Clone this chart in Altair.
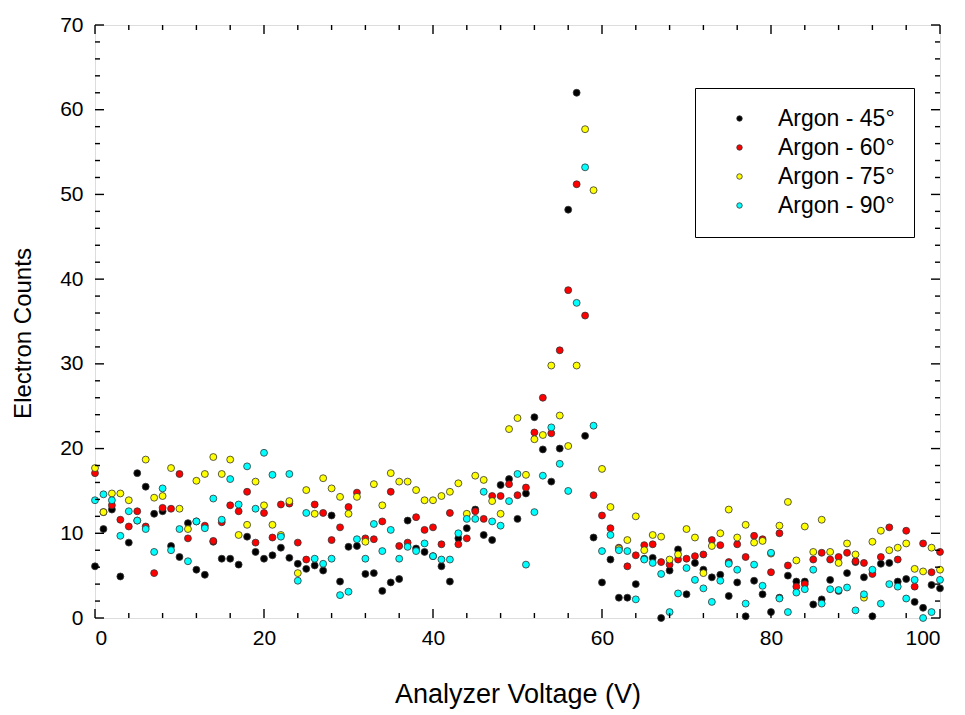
import altair as alt
import pandas as pd

voltage = list(range(0, 101))

argon_45 = [6.1, 10.5, 12.8, 4.9, 8.9, 17.1, 15.5, 12.3, 12.6, 8.5,
            7.2, 11.2, 5.7, 5.1, 9.0, 7.0, 7.0, 6.3, 9.6, 7.8,
            7.0, 7.4, 8.3, 7.1, 6.4, 5.8, 6.2, 5.6, 12.1, 4.3,
            8.4, 8.5, 5.2, 5.3, 3.2, 4.2, 4.6, 11.5, 8.2, 7.8,
            7.3, 6.1, 4.3, 9.4, 10.6, 12.8, 9.8, 9.2, 15.7, 16.4,
            11.7, 14.7, 23.7, 19.9, 16.1, 20.0, 48.2, 62.0, 21.5, 9.5,
            4.2, 6.9, 2.4, 2.4, 4.0, 7.0, 7.1, 0.0, 5.6, 8.1,
            2.8, 6.5, 5.7, 4.8, 5.1, 2.6, 4.2, 0.2, 4.4, 2.8,
            0.7, 2.4, 5.0, 4.3, 4.3, 1.6, 2.2, 4.5, 3.2, 5.3,
            6.6, 4.8, 0.2, 6.4, 6.5, 4.3, 4.6, 1.9, 1.2, 3.9,
            3.5]

argon_60 = [17.1, 12.5, 13.3, 11.6, 10.8, 12.6, 10.8, 5.3, 13.0, 12.9,
            17.0, 9.4, 11.4, 10.9, 9.1, 11.3, 13.3, 12.6, 14.9, 8.9,
            12.4, 9.5, 13.4, 13.5, 8.9, 6.9, 13.4, 12.4, 9.2, 10.7,
            13.1, 14.8, 9.4, 9.3, 11.4, 14.9, 8.5, 8.9, 11.9, 10.4,
            10.7, 8.7, 12.4, 8.7, 9.4, 12.6, 11.7, 14.4, 14.4, 15.8,
            14.5, 15.4, 21.9, 26.0, 21.8, 31.6, 38.7, 51.2, 35.7, 14.5,
            12.1, 10.6, 8.3, 6.1, 7.4, 8.6, 8.7, 6.6, 6.3, 6.9,
            7.0, 7.3, 7.5, 9.2, 8.6, 6.6, 8.7, 7.2, 9.7, 9.3,
            5.4, 10.0, 6.2, 3.7, 4.0, 6.9, 7.7, 6.9, 7.2, 7.7,
            6.7, 6.5, 5.2, 7.2, 10.7, 6.9, 10.3, 3.7, 8.8, 5.4,
            7.8]

argon_75 = [17.7, 12.5, 14.7, 14.7, 13.9, 11.5, 18.7, 14.2, 14.4, 17.7,
            12.9, 10.5, 16.2, 17.0, 19.0, 17.0, 18.7, 9.8, 11.0, 16.1,
            13.3, 11.0, 9.8, 13.8, 5.3, 15.1, 12.3, 16.5, 15.3, 14.3,
            12.3, 14.3, 9.0, 15.8, 13.3, 17.1, 16.1, 16.1, 15.1, 13.9,
            13.9, 14.4, 14.9, 15.9, 12.3, 16.8, 16.3, 13.8, 12.3, 22.3,
            23.6, 16.9, 21.1, 21.6, 29.8, 23.9, 20.3, 29.8, 57.7, 50.5,
            17.6, 13.1, 8.2, 9.2, 12.0, 8.0, 9.8, 9.6, 6.9, 7.5,
            10.5, 9.5, 5.3, 8.5, 10.0, 12.8, 9.5, 11.0, 8.9, 9.1,
            7.6, 10.9, 13.7, 6.8, 10.8, 7.8, 11.6, 7.8, 6.5, 8.8,
            7.5, 2.4, 9.0, 10.3, 8.0, 8.3, 8.8, 5.8, 5.5, 8.3,
            5.7]

argon_90 = [13.9, 14.6, 13.9, 9.7, 12.6, 11.5, 10.5, 7.8, 15.3, 8.0,
            10.5, 6.7, 11.4, 10.6, 14.1, 11.6, 16.4, 13.4, 17.9, 12.9,
            19.5, 16.9, 9.6, 17.0, 4.4, 12.4, 7.0, 6.4, 7.0, 2.7,
            3.1, 9.3, 7.0, 11.1, 7.9, 10.4, 7.0, 8.4, 7.9, 8.8,
            7.3, 6.9, 6.9, 10.0, 11.7, 11.7, 14.9, 11.4, 10.9, 13.8,
            17.0, 6.3, 12.5, 16.8, 22.5, 18.2, 15.0, 37.2, 53.2, 22.7,
            7.9, 9.8, 8.0, 7.9, 2.2, 6.9, 6.5, 5.2, 0.7, 2.9,
            5.9, 4.5, 3.5, 1.9, 4.4, 6.4, 5.7, 1.7, 6.3, 3.8,
            7.7, 2.3, 0.7, 3.0, 3.4, 5.7, 1.7, 3.4, 3.3, 3.6,
            0.9, 2.8, 5.7, 1.7, 4.0, 3.7, 2.3, 4.5, 0.0, 0.7,
            4.5]

series_names = ["Argon - 45°", "Argon - 60°", "Argon - 75°", "Argon - 90°"]
series_colors = ["#000000", "#ff0000", "#ffff00", "#00ffff"]
series_values = [argon_45, argon_60, argon_75, argon_90]

x_major = [0, 20, 40, 60, 80, 100]
x_minor = [v for v in range(0, 101, 4) if v not in x_major]
y_major = [0, 10, 20, 30, 40, 50, 60, 70]
y_minor = [v for v in range(0, 71, 2) if v not in y_major]

W, H = 845, 593

rows = []
for i, (name, vals) in enumerate(zip(series_names, series_values)):
    for xv, yv in zip(voltage, vals):
        rows.append({"V": xv, "Counts": yv, "Series": name, "order": i})
df = pd.DataFrame(rows)

xs = alt.Scale(domain=[0, 100], nice=False, zero=False)
ys = alt.Scale(domain=[0, 70], nice=False, zero=False)

FONT = "Liberation Sans"

points = alt.Chart(df).mark_circle(
    size=48, opacity=1, stroke="#333333", strokeWidth=0.8
).encode(
    x=alt.X("V:Q", scale=xs, title="Analyzer Voltage (V)",
            axis=alt.Axis(values=x_major, format="d", grid=False, ticks=False,
                          domain=False, labelFontSize=21, labelPadding=9,
                          labelColor="black", titleFontSize=27,
                          titleFontWeight="normal", titleColor="black",
                          titleBaseline="middle", titleY=76)),
    y=alt.Y("Counts:Q", scale=ys, title="Electron Counts",
            axis=alt.Axis(values=y_major, format="d", grid=False, ticks=False,
                          domain=False, labelFontSize=21, labelPadding=12,
                          labelColor="black", titleFontSize=24,
                          titleFontWeight="normal", titleColor="black",
                          titleBaseline="middle", titleX=-72, titleY=308)),
    color=alt.Color("Series:N",
                    scale=alt.Scale(domain=series_names, range=series_colors),
                    legend=alt.Legend(
                        title=None, orient="none", legendX=600, legendY=63,
                        fillColor="white", strokeColor="black",
                        padding=19, symbolOffset=14, labelOffset=27,
                        rowPadding=5, labelFontSize=23, labelColor="black",
                        labelFont=FONT, symbolSize=30, symbolType="circle",
                        symbolStrokeColor="#333333", symbolStrokeWidth=0.8,
                        symbolOpacity=1)),
    order=alt.Order("order:Q"),
)

def tick_layer(vals, field, length, side):
    d = pd.DataFrame({field: vals})
    c = alt.Chart(d).mark_rule(color="black", strokeWidth=1.4)
    if side == "bottom":
        return c.encode(x=alt.X(f"{field}:Q", scale=xs), y=alt.value(H), y2=alt.value(H - length))
    if side == "top":
        return c.encode(x=alt.X(f"{field}:Q", scale=xs), y=alt.value(0), y2=alt.value(length))
    if side == "left":
        return c.encode(y=alt.Y(f"{field}:Q", scale=ys), x=alt.value(0), x2=alt.value(length))
    return c.encode(y=alt.Y(f"{field}:Q", scale=ys), x=alt.value(W), x2=alt.value(W - length))

ticks = []
for side in ["bottom", "top"]:
    ticks.append(tick_layer(x_major, "V", 9, side))
    ticks.append(tick_layer(x_minor, "V", 5, side))
for side in ["left", "right"]:
    ticks.append(tick_layer(y_major, "Counts", 9, side))
    ticks.append(tick_layer(y_minor, "Counts", 5, side))

chart = alt.layer(points, *ticks).properties(
    width=W, height=H,
    autosize=alt.AutoSizeParams(type="none"),
    padding={"left": 95, "top": 25, "right": 25, "bottom": 97},
).configure_view(
    stroke="black", strokeWidth=1.8
).configure_axis(
    labelFont=FONT, titleFont=FONT
).configure(
    background="white"
)

chart.save("out.html", embed_options={"renderer": "svg", "actions": False})
